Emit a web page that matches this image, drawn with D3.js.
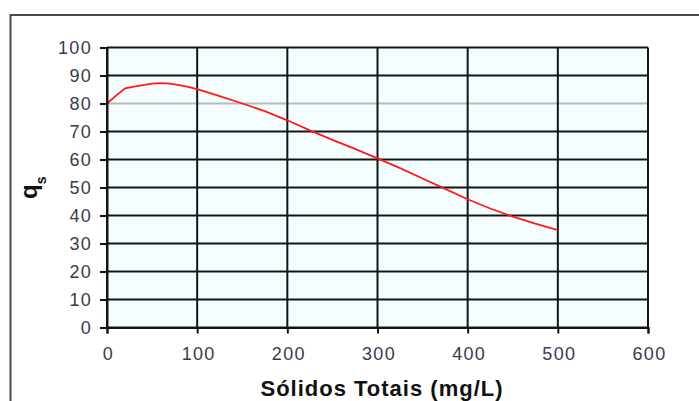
<!DOCTYPE html>
<html>
<head>
<meta charset="utf-8">
<script src="https://cdn.jsdelivr.net/npm/d3@7"></script>
<style>
  body { margin: 0; background: #fff; }
  svg { display: block; }
  text { font-family: "Liberation Sans", Arial, sans-serif; }
</style>
</head>
<body>
<svg id="chart" width="699" height="401"></svg>
<script>
// Total solids (mg/L) against the q_s factor
const solidos = [0, 10, 20, 30, 40, 50, 60, 70, 80, 90, 100, 125, 150, 175, 200,
                 225, 250, 275, 300, 325, 350, 375, 400, 425, 450, 475, 500];
const qs = [80, 82.8, 85.4, 86, 86.6, 87.1, 87.3, 87.1, 86.6, 85.9, 85.1, 82.6, 80, 77.3, 74,
            70.4, 67, 63.8, 60.4, 56.9, 53.2, 49.5, 45.8, 42.5, 39.6, 37.1, 34.8];
const xTicks = [0, 100, 200, 300, 400, 500, 600];
const yTicks = [0, 10, 20, 30, 40, 50, 60, 70, 80, 90, 100];
const greyLine = [80];
const xTitle = "Sólidos Totais (mg/L)";

const svg = d3.select("#chart");
const plotL = 107, plotR = 648, plotT = 47.5, plotB = 327.5;

const x = d3.scaleLinear().domain([0, 600]).range([plotL, plotR]);
const y = d3.scaleLinear().domain([0, 100]).range([plotB, plotT]);

// outer chart frame
svg.append("rect")
  .attr("x", 10.5).attr("y", 15)
  .attr("width", 720).attr("height", 420)
  .attr("fill", "#fff").attr("stroke", "#4a4a4a").attr("stroke-width", 2);

// plot area
svg.append("rect")
  .attr("x", plotL).attr("y", plotT)
  .attr("width", plotR - plotL).attr("height", plotB - plotT)
  .attr("fill", "#f5fefe");

// horizontal grid
const grid = svg.append("g");
grid.selectAll("line.h").data(yTicks).join("line")
  .attr("class", "h")
  .attr("x1", plotL).attr("x2", plotR)
  .attr("y1", d => y(d)).attr("y2", d => y(d))
  .attr("stroke", d => greyLine.includes(d) ? "#b4bcbc" : "#151515")
  .attr("stroke-width", 2);

// vertical grid
grid.selectAll("line.v").data(xTicks).join("line")
  .attr("class", "v")
  .attr("x1", d => x(d)).attr("x2", d => x(d))
  .attr("y1", plotT).attr("y2", plotB)
  .attr("stroke", "#151515")
  .attr("stroke-width", 2);

// the curve
const line = d3.line()
  .x(d => x(d[0]))
  .y(d => y(d[1]));
svg.append("path")
  .datum(d3.zip(solidos, qs))
  .attr("d", line)
  .attr("fill", "none")
  .attr("stroke", "#ff1a1a")
  .attr("stroke-width", 1.8)
  .attr("stroke-linejoin", "round");

// axes
const yAxis = d3.axisLeft(y).tickValues(yTicks).tickSize(7).tickPadding(9);
const xAxis = d3.axisBottom(x).tickValues(xTicks).tickSize(6).tickPadding(14);

const gy = svg.append("g").attr("transform", `translate(${plotL},0)`).call(yAxis);
const gx = svg.append("g").attr("transform", `translate(0,${plotB})`).call(xAxis);

[gx, gy].forEach(g => {
  g.select(".domain").attr("stroke", "#151515").attr("stroke-width", 2);
  g.selectAll(".tick line").attr("stroke", "#151515").attr("stroke-width", 2);
  g.selectAll(".tick text")
    .attr("fill", "#3a3a4a")
    .style("font-size", "18px")
    .style("letter-spacing", "1.3px");
});
gy.selectAll(".tick text").attr("dy", "0.36em").attr("x", -15);
gx.selectAll(".tick text").attr("dy", "0.71em").attr("dx", "1px");

// x axis title
svg.append("text")
  .attr("x", 382).attr("y", 396)
  .attr("text-anchor", "middle")
  .style("font-size", "22px")
  .style("font-weight", "bold")
  .style("letter-spacing", "1px")
  .attr("fill", "#111")
  .text(xTitle);

// y axis title: q with subscript s
const yt = svg.append("text")
  .attr("transform", "translate(37,199) rotate(-90)")
  .style("font-weight", "bold")
  .attr("fill", "#111");
yt.append("tspan").style("font-size", "24px").text("q");
yt.append("tspan").style("font-size", "14px").attr("dy", 9).text("s");
</script>
</body>
</html>
